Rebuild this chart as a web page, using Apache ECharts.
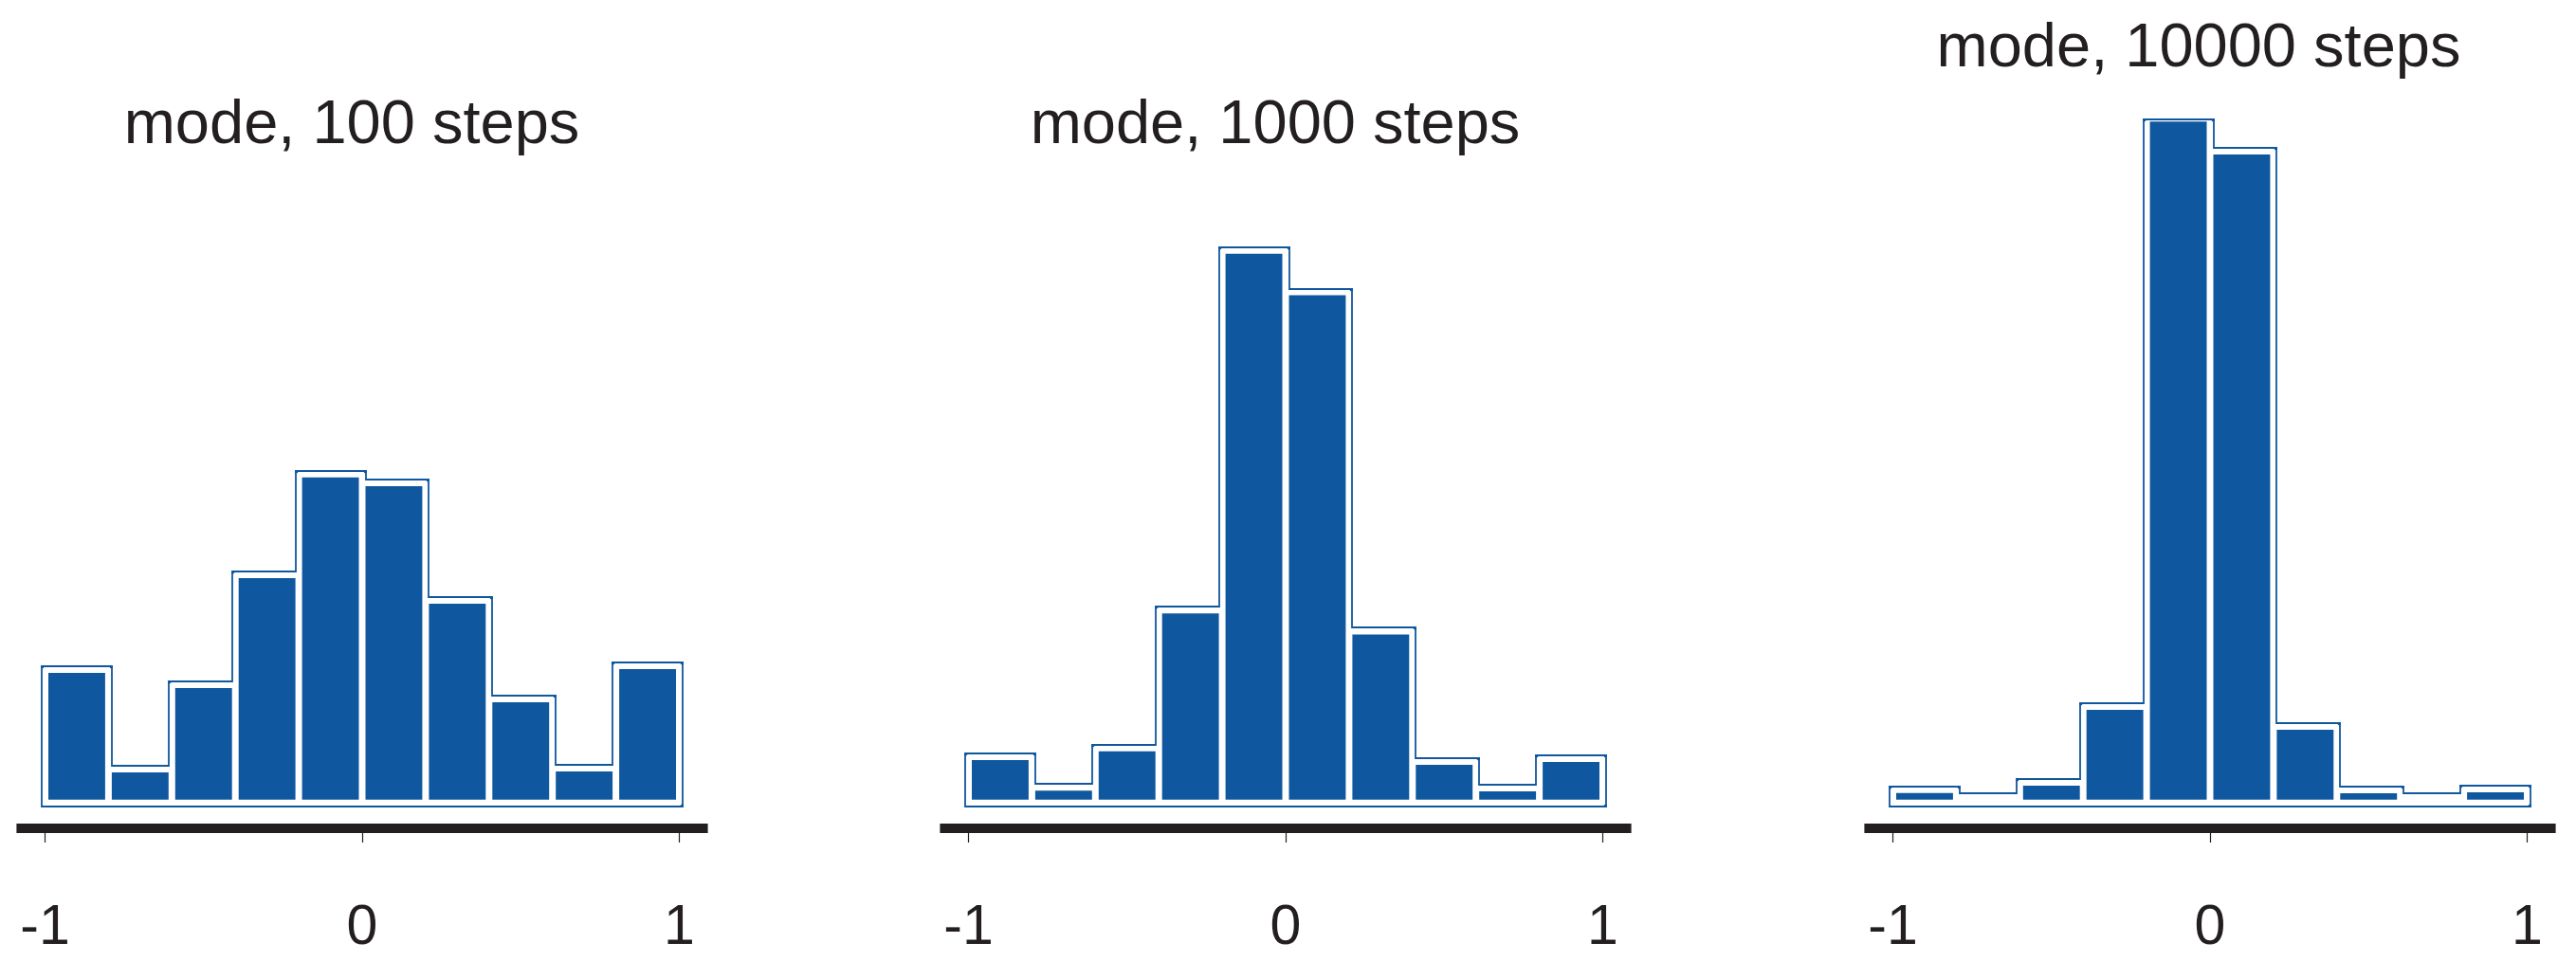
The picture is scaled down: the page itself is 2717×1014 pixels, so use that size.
<!DOCTYPE html>
<html>
<head>
<meta charset="utf-8">
<script src="https://cdn.jsdelivr.net/npm/echarts@6/dist/echarts.min.js"></script>
<style>
html,body{margin:0;padding:0;background:#ffffff;}
#chart{width:2717px;height:1014px;}
</style>
</head>
<body>
<div id="chart"></div>
<script>
// ---------------- data ----------------
const binEdges = [-1, -0.8, -0.6, -0.4, -0.2, 0, 0.2, 0.4, 0.6, 0.8, 1];
const tickValues = [-1, 0, 1];
const titles = ['mode, 100 steps', 'mode, 1000 steps', 'mode, 10000 steps'];
// histogram densities
const density100   = [0.400, 0.086, 0.352, 0.699, 1.016, 0.989, 0.618, 0.307, 0.089, 0.412];
const density1000  = [0.125, 0.028, 0.152, 0.587, 1.722, 1.591, 0.521, 0.110, 0.026, 0.119];
const density10000 = [0.021, 0.000, 0.044, 0.283, 2.139, 2.035, 0.220, 0.020, 0.000, 0.023];

// ---------------- style / layout ----------------
const BLUE = '#0f589f';
const INK = '#231f20';
const FONT = '"Liberation Sans", Arial, Helvetica, sans-serif';
const INSET = 3.5;     // gap between a bar and its bin edge (px)
const OFF = 7;         // outline offset from bars (px)
const panelLefts = [17.4, 991.4, 1966.4];
const panelWidth = 729.2;
const gridTop = 126;
const gridBottom = 170.3;
const yMax = 2.1456;
const titleX = [371, 1345, 2319];
const titleY = [133.5, 133.5, 52.5];

const panels = [density100, density1000, density10000];

function barRender(params, api) {
  const lo = api.value(0), hi = api.value(1), v = api.value(2);
  const p0 = api.coord([lo, v]);
  const p1 = api.coord([hi, 0]);
  const h = p1[1] - p0[1];
  if (h <= 0) return null;
  return {
    type: 'rect',
    shape: { x: p0[0] + INSET, y: p0[1], width: p1[0] - p0[0] - 2 * INSET, height: h },
    style: { fill: BLUE }
  };
}

function makeOutline(values) {
  return function (params, api) {
    const top = params.coordSys.y;
    const n = values.length;
    const L = [], R = [], T = [];
    for (let k = 0; k < n; k++) {
      const a = api.coord([binEdges[k], values[k]]);
      const b = api.coord([binEdges[k + 1], 0]);
      L.push(a[0] + INSET);
      R.push(b[0] - INSET);
      T.push(Math.round(Math.max(a[1] - OFF, top)));
    }
    const B = Math.round(api.coord([0, 0])[1] + OFF);
    const xl = Math.round(L[0] - OFF), xr = Math.round(R[n - 1] + OFF);
    const xb = [];
    for (let k = 0; k < n - 1; k++) {
      xb.push(Math.round(T[k] <= T[k + 1] ? R[k] + OFF : L[k + 1] - OFF));
    }
    const pts = [[xl, B], [xl, T[0]]];
    for (let k = 0; k < n - 1; k++) {
      pts.push([xb[k], T[k]]);
      pts.push([xb[k], T[k + 1]]);
    }
    pts.push([xr, T[n - 1]]);
    pts.push([xr, B]);
    const children = [{
      type: 'polygon',
      shape: { points: pts },
      style: { fill: null, stroke: BLUE, lineWidth: 1.8, lineJoin: 'miter' }
    }];
    const sq = 3;
    for (let k = 0; k < n; k++) {
      const left = k === 0 ? xl : xb[k - 1];
      const right = k === n - 1 ? xr : xb[k];
      if (k === 0 || T[k] < T[k - 1]) {
        children.push({ type: 'rect', shape: { x: left - 0.9, y: T[k] - 0.9, width: sq, height: sq }, style: { fill: BLUE } });
      }
      if (k === n - 1 || T[k] < T[k + 1]) {
        children.push({ type: 'rect', shape: { x: right + 0.9 - sq, y: T[k] - 0.9, width: sq, height: sq }, style: { fill: BLUE } });
      }
    }
    children.push({ type: 'rect', shape: { x: xr + 0.9 - sq, y: B + 0.9 - sq, width: sq, height: sq }, style: { fill: BLUE } });
    return { type: 'group', children: children };
  };
}

const grid = [], xAxis = [], yAxis = [], series = [], graphic = [];
panels.forEach(function (values, i) {
  grid.push({ left: panelLefts[i], width: panelWidth, top: gridTop, bottom: gridBottom, containLabel: false });
  xAxis.push({
    type: 'value', gridIndex: i, min: -1.09, max: 1.09, position: 'bottom', offset: 30.3,
    splitLine: { show: false },
    axisLine: { show: true, onZero: false, lineStyle: { color: INK, width: 10, cap: 'butt' } },
    axisTick: { show: true, customValues: tickValues, length: 15, lineStyle: { color: INK, width: 1.2 } },
    axisLabel: { show: true, customValues: tickValues, margin: 76, fontSize: 59, color: INK, fontFamily: FONT,
      formatter: function (v) { return String(v); } }
  });
  yAxis.push({ type: 'value', gridIndex: i, min: 0, max: yMax, show: false, splitLine: { show: false } });
  series.push({
    type: 'custom', xAxisIndex: i, yAxisIndex: i, renderItem: barRender, silent: true,
    encode: { x: [0, 1], y: 2 },
    data: values.map(function (v, k) { return [binEdges[k], binEdges[k + 1], v]; })
  });
  series.push({
    type: 'custom', xAxisIndex: i, yAxisIndex: i, renderItem: makeOutline(values), silent: true,
    data: [[0, 0]]
  });
  graphic.push({
    type: 'text', x: titleX[i], y: titleY[i], silent: true,
    style: { text: titles[i], fill: INK, font: '65px ' + FONT, fontSize: 65, fontFamily: FONT,
      textAlign: 'center', textVerticalAlign: 'middle', align: 'center', verticalAlign: 'middle' }
  });
});

const chart = echarts.init(document.getElementById('chart'), null, { renderer: 'canvas', width: 2717, height: 1014 });
chart.setOption({
  backgroundColor: '#ffffff',
  animation: false,
  grid: grid,
  xAxis: xAxis,
  yAxis: yAxis,
  series: series,
  graphic: graphic
});
</script>
</body>
</html>
